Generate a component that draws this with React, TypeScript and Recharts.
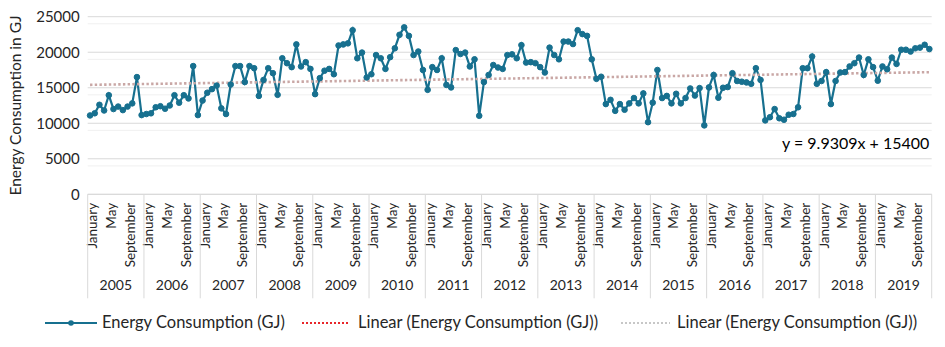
import React from 'react';
import { LineChart, Line, XAxis, YAxis, CartesianGrid, ReferenceLine, Label } from 'recharts';

const years = [2005, 2006, 2007, 2008, 2009, 2010, 2011, 2012, 2013, 2014, 2015, 2016, 2017, 2018, 2019];
const monthNames = ['January', 'February', 'March', 'April', 'May', 'June', 'July', 'August', 'September', 'October', 'November', 'December'];
const labelledMonths = ['January', 'May', 'September'];

const energy2005 = [11100, 11400, 12600, 11800, 13950, 12000, 12350, 11850, 12350, 12800, 16500, 11150];
const energy2006 = [11300, 11400, 12250, 12400, 12050, 12500, 13950, 12900, 13950, 13500, 18050, 11150];
const energy2007 = [13200, 14300, 14800, 15300, 12100, 11300, 15450, 18050, 18050, 15800, 18050, 17750];
const energy2008 = [13850, 16100, 17750, 17050, 14000, 19150, 18450, 17900, 21100, 18000, 18600, 17650];
const energy2009 = [14100, 16350, 17400, 17650, 16900, 20950, 21100, 21250, 23100, 19150, 19950, 16450];
const energy2010 = [16900, 19600, 19150, 17650, 19300, 20550, 22450, 23500, 22300, 19600, 20100, 17500];
const energy2011 = [14700, 17900, 17500, 19150, 15400, 15050, 20300, 19750, 19950, 18000, 19000, 11050];
const energy2012 = [15800, 16800, 18200, 17850, 17650, 19600, 19700, 19150, 21000, 18550, 18600, 18450];
const energy2013 = [17900, 17150, 20650, 19600, 19000, 21500, 21500, 21150, 23100, 22550, 22300, 19000];
const energy2014 = [16250, 16550, 12700, 13300, 11750, 12700, 11900, 12800, 13550, 12800, 14200, 10150];
const energy2015 = [12900, 17500, 13550, 13850, 12800, 14150, 12800, 13550, 14900, 13900, 14950, 9700];
const energy2016 = [15050, 16800, 13600, 15000, 15100, 17050, 15950, 15850, 15750, 15550, 17750, 16100];
const energy2017 = [10400, 10850, 12000, 10700, 10500, 11200, 11300, 12250, 17750, 17750, 19400, 15550];
const energy2018 = [15950, 17200, 12700, 15950, 17150, 17200, 18000, 18450, 19250, 16800, 19000, 17900];
const energy2019 = [16000, 18000, 17600, 19250, 18350, 20350, 20350, 20100, 20550, 20650, 21050, 20450];

const energyByYear = [
  energy2005, energy2006, energy2007, energy2008, energy2009, energy2010, energy2011, energy2012,
  energy2013, energy2014, energy2015, energy2016, energy2017, energy2018, energy2019,
];

// Trendline y = 9.9309x + 15400, endpoints at x = 1 and x = 180
const trendEquation = 'y = 9.9309x + 15400';
const trendStart = 15410;
const trendEnd = 17188;

const yTicks = [0, 5000, 10000, 15000, 20000, 25000];
const minorTicks = [1000, 2000, 3000, 4000, 6000, 7000, 8000, 9000, 11000, 12000, 13000, 14000, 16000, 17000, 18000, 19000, 21000, 22000, 23000, 24000];

const data = energyByYear.flatMap((vals, yi) =>
  vals.map((v, mi) => ({ key: `${years[yi]}-${monthNames[mi]}`, year: years[yi], month: monthNames[mi], energy: v }))
);

const FONT = 'Lato, "Open Sans", sans-serif';
const TEXT = '#262626';
const LINE = '#17708f';
const TREND = '#c9a7a5';

const MonthTick = (props: any) => {
  const { x, y, index, payload } = props;
  const d = data[index];
  if (!d) return null;
  const half = payload && payload.offset ? payload.offset : 844 / 360;
  const mi = index % 12;
  const els: any[] = [];
  if (labelledMonths.includes(d.month)) {
    const tx = x + 2;
    const ty = y + 8.5;
    els.push(
      <text key="m" x={tx} y={ty} transform={`rotate(-90, ${tx}, ${ty})`} textAnchor="end" dominantBaseline="central"
        fontSize={13.5} fontFamily={FONT} fill={TEXT}>{d.month}</text>
    );
  }
  if (mi === 0) {
    const sx = x - half;
    els.push(<line key="s" x1={sx} x2={sx} y1={y} y2={y + 104} stroke="#d9d9d9" strokeWidth={1} />);
    els.push(
      <text key="y" x={x - half + 12 * half} y={y + 90} textAnchor="middle" dominantBaseline="central"
        fontSize={14} fontFamily={FONT} fill={TEXT}>{d.year}</text>
    );
  }
  if (index === data.length - 1) {
    const sx = x + half;
    els.push(<line key="e" x1={sx} x2={sx} y1={y} y2={y + 104} stroke="#d9d9d9" strokeWidth={1} />);
  }
  return <g>{els}</g>;
};

const YLabel = (props: any) => {
  const vb = props.viewBox || { x: 0, y: 0, width: 0, height: 0 };
  const cx = 15;
  const cy = vb.y + vb.height / 2;
  return (
    <text x={cx} y={cy} transform={`rotate(-90, ${cx}, ${cy})`} textAnchor="middle" dominantBaseline="central"
      fontSize={15.5} fontFamily={FONT} fill={TEXT}>Energy Consumption in GJ</text>
  );
};

const LegendItem = ({ kind, label, iconLeft, iconWidth, textLeft }: { kind: string; label: string; iconLeft: number; iconWidth: number; textLeft: number }) => (
  <>
    <svg width={iconWidth} height={10} style={{ position: 'absolute', left: iconLeft, top: 6 }}>
      {kind === 'series' && (
        <g>
          <line x1={0} x2={iconWidth} y1={5} y2={5} stroke={LINE} strokeWidth={2.2} />
          <circle cx={iconWidth / 2} cy={5} r={2.8} fill={LINE} />
        </g>
      )}
      {kind === 'red' && <line x1={0} x2={iconWidth} y1={5} y2={5} stroke="#e8262a" strokeWidth={2.2} strokeDasharray="2 2" />}
      {kind === 'gray' && <line x1={0} x2={iconWidth} y1={5} y2={5} stroke="#c7c7c7" strokeWidth={2.2} strokeDasharray="2 2" />}
    </svg>
    <span style={{ position: 'absolute', left: textLeft, top: 0, whiteSpace: 'nowrap' }}>{label}</span>
  </>
);

export default function App() {
  return (
    <div style={{ position: 'absolute', left: 0, top: 0, width: 945, height: 347, background: '#fff', fontFamily: FONT }}>
      <LineChart width={945} height={347} data={data} margin={{ top: 16.7, right: 13.3, bottom: 47.7, left: 7.7 }}>
        <CartesianGrid vertical={false} horizontalValues={minorTicks} stroke="#f0f0f0" strokeWidth={1} />
        <CartesianGrid vertical={false} horizontalValues={yTicks} stroke="#d9d9d9" strokeWidth={1} />
        <XAxis dataKey="key" scale="band" interval={0} tick={<MonthTick />} tickLine={false} tickSize={0} tickMargin={0}
          axisLine={{ stroke: '#d9d9d9' }} height={105} />
        <YAxis domain={[0, 25000]} ticks={yTicks} axisLine={false} tickLine={false} width={80}
          tick={{ fontSize: 15, fontFamily: FONT, fill: TEXT }}>
          <Label content={<YLabel />} />
        </YAxis>
        <Line dataKey="energy" stroke={LINE} strokeWidth={2.2} isAnimationActive={false}
          dot={{ r: 2.8, fill: LINE, stroke: LINE, strokeWidth: 1 }} activeDot={false} />
        <ReferenceLine segment={[{ x: data[0].key, y: trendStart }, { x: data[data.length - 1].key, y: trendEnd }]}
          stroke={TREND} strokeWidth={2.6} strokeDasharray="2.4 2.3" ifOverflow="visible" />
      </LineChart>
      <div style={{ position: 'absolute', left: 782, top: 133, fontSize: 16, color: '#000', whiteSpace: 'nowrap' }}>{trendEquation}</div>
      <div style={{ position: 'absolute', left: 0, top: 312, width: 945, height: 22, fontSize: 16.5, color: TEXT }}>
        <LegendItem kind="series" label="Energy Consumption (GJ)" iconLeft={45} iconWidth={52} textLeft={102} />
        <LegendItem kind="red" label="Linear (Energy Consumption (GJ))" iconLeft={302} iconWidth={48} textLeft={358} />
        <LegendItem kind="gray" label="Linear (Energy Consumption (GJ))" iconLeft={621} iconWidth={49} textLeft={677} />
      </div>
    </div>
  );
}
